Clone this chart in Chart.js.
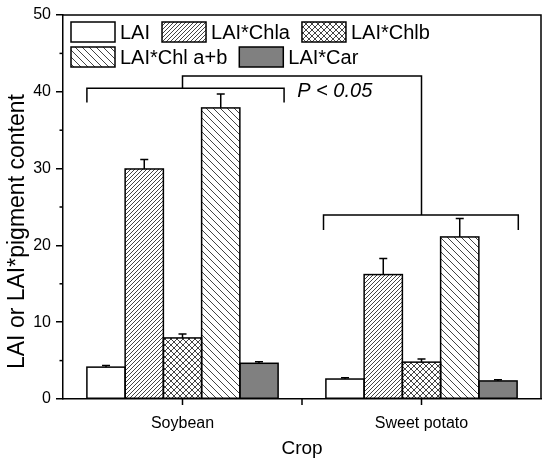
<!DOCTYPE html>
<html>
<head>
<meta charset="utf-8">
<script src="https://cdn.jsdelivr.net/npm/chart.js@4.4.1/dist/chart.umd.min.js"></script>
<style>
html,body{margin:0;padding:0;background:#fff;}
#wrap{width:550px;height:468px;position:relative;}
</style>
</head>
<body>
<div id="wrap"><canvas id="c"></canvas></div>
<script>
// ---- data ----
const categories = ['Soybean', 'Sweet potato'];
const seriesNames = ['LAI', 'LAI*Chla', 'LAI*Chlb', 'LAI*Chl a+b', 'LAI*Car'];
const laiValues   = [4.15, 2.6];
const laiErrors   = [0.2, 0.18];
const chlaValues  = [29.95, 16.2];
const chlaErrors  = [1.25, 2.1];
const chlbValues  = [7.95, 4.8];
const chlbErrors  = [0.5, 0.4];
const chlabValues = [37.9, 21.1];
const chlabErrors = [1.8, 2.4];
const carValues   = [4.65, 2.35];
const carErrors   = [0.2, 0.17];
const yTicks = [0, 10, 20, 30, 40, 50];
const yMinorTicks = [5, 15, 25, 35, 45];
const yTitle = 'LAI or LAI*pigment content';
// significance bracket (value units on y, category-width fractions on x)
const groupBracketLevel = [40.45, 23.95];
const groupBracketLegEnd = [38.6, 22.0];
const groupBracketLeft = [-0.4, -0.41];
const groupBracketRight = [0.425, 0.405];
const connectorLevel = 42.05;
const significanceText = 'P < 0.05';

// ---- patterns ----
function hatch(kind, s, fg, lw) {
  const c = document.createElement('canvas');
  c.width = s; c.height = s;
  const g = c.getContext('2d');
  g.fillStyle = '#ffffff';
  g.fillRect(0, 0, s, s);
  g.strokeStyle = fg;
  g.lineWidth = lw;
  g.beginPath();
  if (kind === '/' || kind === 'x') {
    g.moveTo(-1, s + 1); g.lineTo(s + 1, -1);
    g.moveTo(-1, 1); g.lineTo(1, -1);
    g.moveTo(s - 1, s + 1); g.lineTo(s + 1, s - 1);
  }
  if (kind === '\\' || kind === 'x') {
    g.moveTo(-1, -1); g.lineTo(s + 1, s + 1);
    g.moveTo(s - 1, -1); g.lineTo(s + 1, 1);
    g.moveTo(-1, s - 1); g.lineTo(1, s + 1);
  }
  g.stroke();
  return g.createPattern(c, 'repeat');
}
const ctx = document.getElementById('c').getContext('2d');
const fills = [
  '#ffffff',
  hatch('/', 4, '#444444', 1),
  hatch('x', 6, '#444444', 1),
  hatch('\\', 7, '#444444', 1),
  '#808080'
];
const valueSets = [laiValues, chlaValues, chlbValues, chlabValues, carValues];
const errorSets = [laiErrors, chlaErrors, chlbErrors, chlabErrors, carErrors];

const FONT = "'Liberation Sans', Arial, sans-serif";

const extrasPlugin = {
  id: 'extras',
  afterDatasetsDraw(chart) {
    const c = chart.ctx;
    const x = chart.scales.x, y = chart.scales.y;
    const area = chart.chartArea;
    c.save();
    c.strokeStyle = '#000';
    c.lineWidth = 1.5;
    // bar outlines (shared edges) and error bars
    chart.data.datasets.forEach((ds, di) => {
      const meta = chart.getDatasetMeta(di);
      meta.data.forEach((bar, i) => {
        const p = bar.getProps(['x', 'y', 'base', 'width'], true);
        c.strokeRect(p.x - p.width / 2, p.y, p.width, p.base - p.y);
      });
    });
    chart.data.datasets.forEach((ds, di) => {
      const meta = chart.getDatasetMeta(di);
      meta.data.forEach((bar, i) => {
        const top = y.getPixelForValue(ds.data[i] + ds.errors[i]);
        c.beginPath();
        c.moveTo(bar.x, bar.y);
        c.lineTo(bar.x, top);
        c.moveTo(bar.x - 4, top);
        c.lineTo(bar.x + 4, top);
        c.stroke();
      });
    });
    // frame top/right
    c.beginPath();
    c.moveTo(area.left, area.top);
    c.lineTo(area.right, area.top);
    c.lineTo(area.right, area.bottom);
    c.stroke();
    // minor y ticks
    yMinorTicks.forEach(v => {
      const py = y.getPixelForValue(v);
      c.beginPath();
      c.moveTo(area.left - 3.5, py);
      c.lineTo(area.left, py);
      c.stroke();
    });
    // x ticks (category centers and boundary)
    const cw = x.getPixelForValue(1) - x.getPixelForValue(0);
    [0, 0.5, 1].forEach(v => {
      const px = x.getPixelForValue(0) + v * cw;
      c.beginPath();
      c.moveTo(px, area.bottom);
      c.lineTo(px, area.bottom + 6);
      c.stroke();
    });
    // brackets
    const cx = categories.map((_, i) => x.getPixelForValue(i));
    categories.forEach((_, i) => {
      const yl = y.getPixelForValue(groupBracketLevel[i]);
      const ye = y.getPixelForValue(groupBracketLegEnd[i]);
      const xl = cx[i] + groupBracketLeft[i] * cw;
      const xr = cx[i] + groupBracketRight[i] * cw;
      c.beginPath();
      c.moveTo(xl, ye); c.lineTo(xl, yl); c.lineTo(xr, yl); c.lineTo(xr, ye);
      c.stroke();
    });
    const yc = y.getPixelForValue(connectorLevel);
    c.beginPath();
    c.moveTo(cx[0], y.getPixelForValue(groupBracketLevel[0]));
    c.lineTo(cx[0], yc);
    c.lineTo(cx[1], yc);
    c.lineTo(cx[1], y.getPixelForValue(groupBracketLevel[1]));
    c.stroke();
    // significance text
    c.fillStyle = '#000';
    c.font = 'italic 20px ' + FONT;
    c.textBaseline = 'middle';
    c.textAlign = 'left';
    c.fillText(significanceText, cx[0] + 0.48 * cw, y.getPixelForValue(40.0));
    // y axis title (placed along the axis as in the original)
    c.save();
    c.font = '23px ' + FONT;
    c.translate(18, y.getPixelForValue(21.8));
    c.rotate(-Math.PI / 2);
    c.textAlign = 'center';
    c.textBaseline = 'middle';
    c.fillText(yTitle, 0, 0);
    c.restore();
    // legend
    c.font = '20px ' + FONT;
    c.textAlign = 'left';
    c.textBaseline = 'middle';
    const rows = [[0, 1, 2], [3, 4]];
    const boxW = 44, boxH = 20;
    rows.forEach((row, ri) => {
      let lx = area.left + 8;
      const ty = area.top + 7 + ri * 25;
      row.forEach(di => {
        c.fillStyle = fills[di];
        c.fillRect(lx, ty, boxW, boxH);
        c.lineWidth = 1.5;
        c.strokeStyle = '#000';
        c.strokeRect(lx, ty, boxW, boxH);
        c.fillStyle = '#000';
        c.fillText(seriesNames[di], lx + boxW + 5, ty + boxH / 2 + 1);
        lx += boxW + 5 + c.measureText(seriesNames[di]).width + 12;
      });
    });
    c.restore();
  }
};

new Chart(ctx, {
  type: 'bar',
  data: {
    labels: categories,
    datasets: seriesNames.map((n, i) => ({
      label: n,
      data: valueSets[i],
      errors: errorSets[i],
      backgroundColor: fills[i],
      borderWidth: 0,
      inflateAmount: 0,
      barPercentage: 1.0,
      categoryPercentage: 0.8
    }))
  },
  options: {
    responsive: true,
    maintainAspectRatio: false,
    animation: false,
    devicePixelRatio: 1,
    layout: { padding: { left: 0, top: 15, right: 9, bottom: 0 } },
    plugins: { legend: { display: false }, tooltip: { enabled: false } },
    scales: {
      x: {
        type: 'category',
        offset: true,
        grid: { display: false },
        border: { display: true, color: '#000', width: 1.5 },
        ticks: { color: '#000', font: { family: FONT, size: 16 }, padding: 7 },
        title: { display: true, text: 'Crop', color: '#000', font: { family: FONT, size: 19 }, padding: { top: 0, bottom: 8 } },
        afterFit(s) { s.height = 69; }
      },
      y: {
        min: 0, max: 50,
        afterBuildTicks(s) { s.ticks = yTicks.map(v => ({ value: v })); },
        grid: { display: true, drawOnChartArea: false, drawTicks: true, tickLength: 7, color: '#000', lineWidth: 1.5 },
        border: { display: true, color: '#000', width: 1.5 },
        ticks: { color: '#000', font: { family: FONT, size: 16 }, padding: 5 },
        title: { display: false },
        afterFit(s) { s.width = 63; }
      }
    }
  },
  plugins: [extrasPlugin]
});
</script>
</body>
</html>
